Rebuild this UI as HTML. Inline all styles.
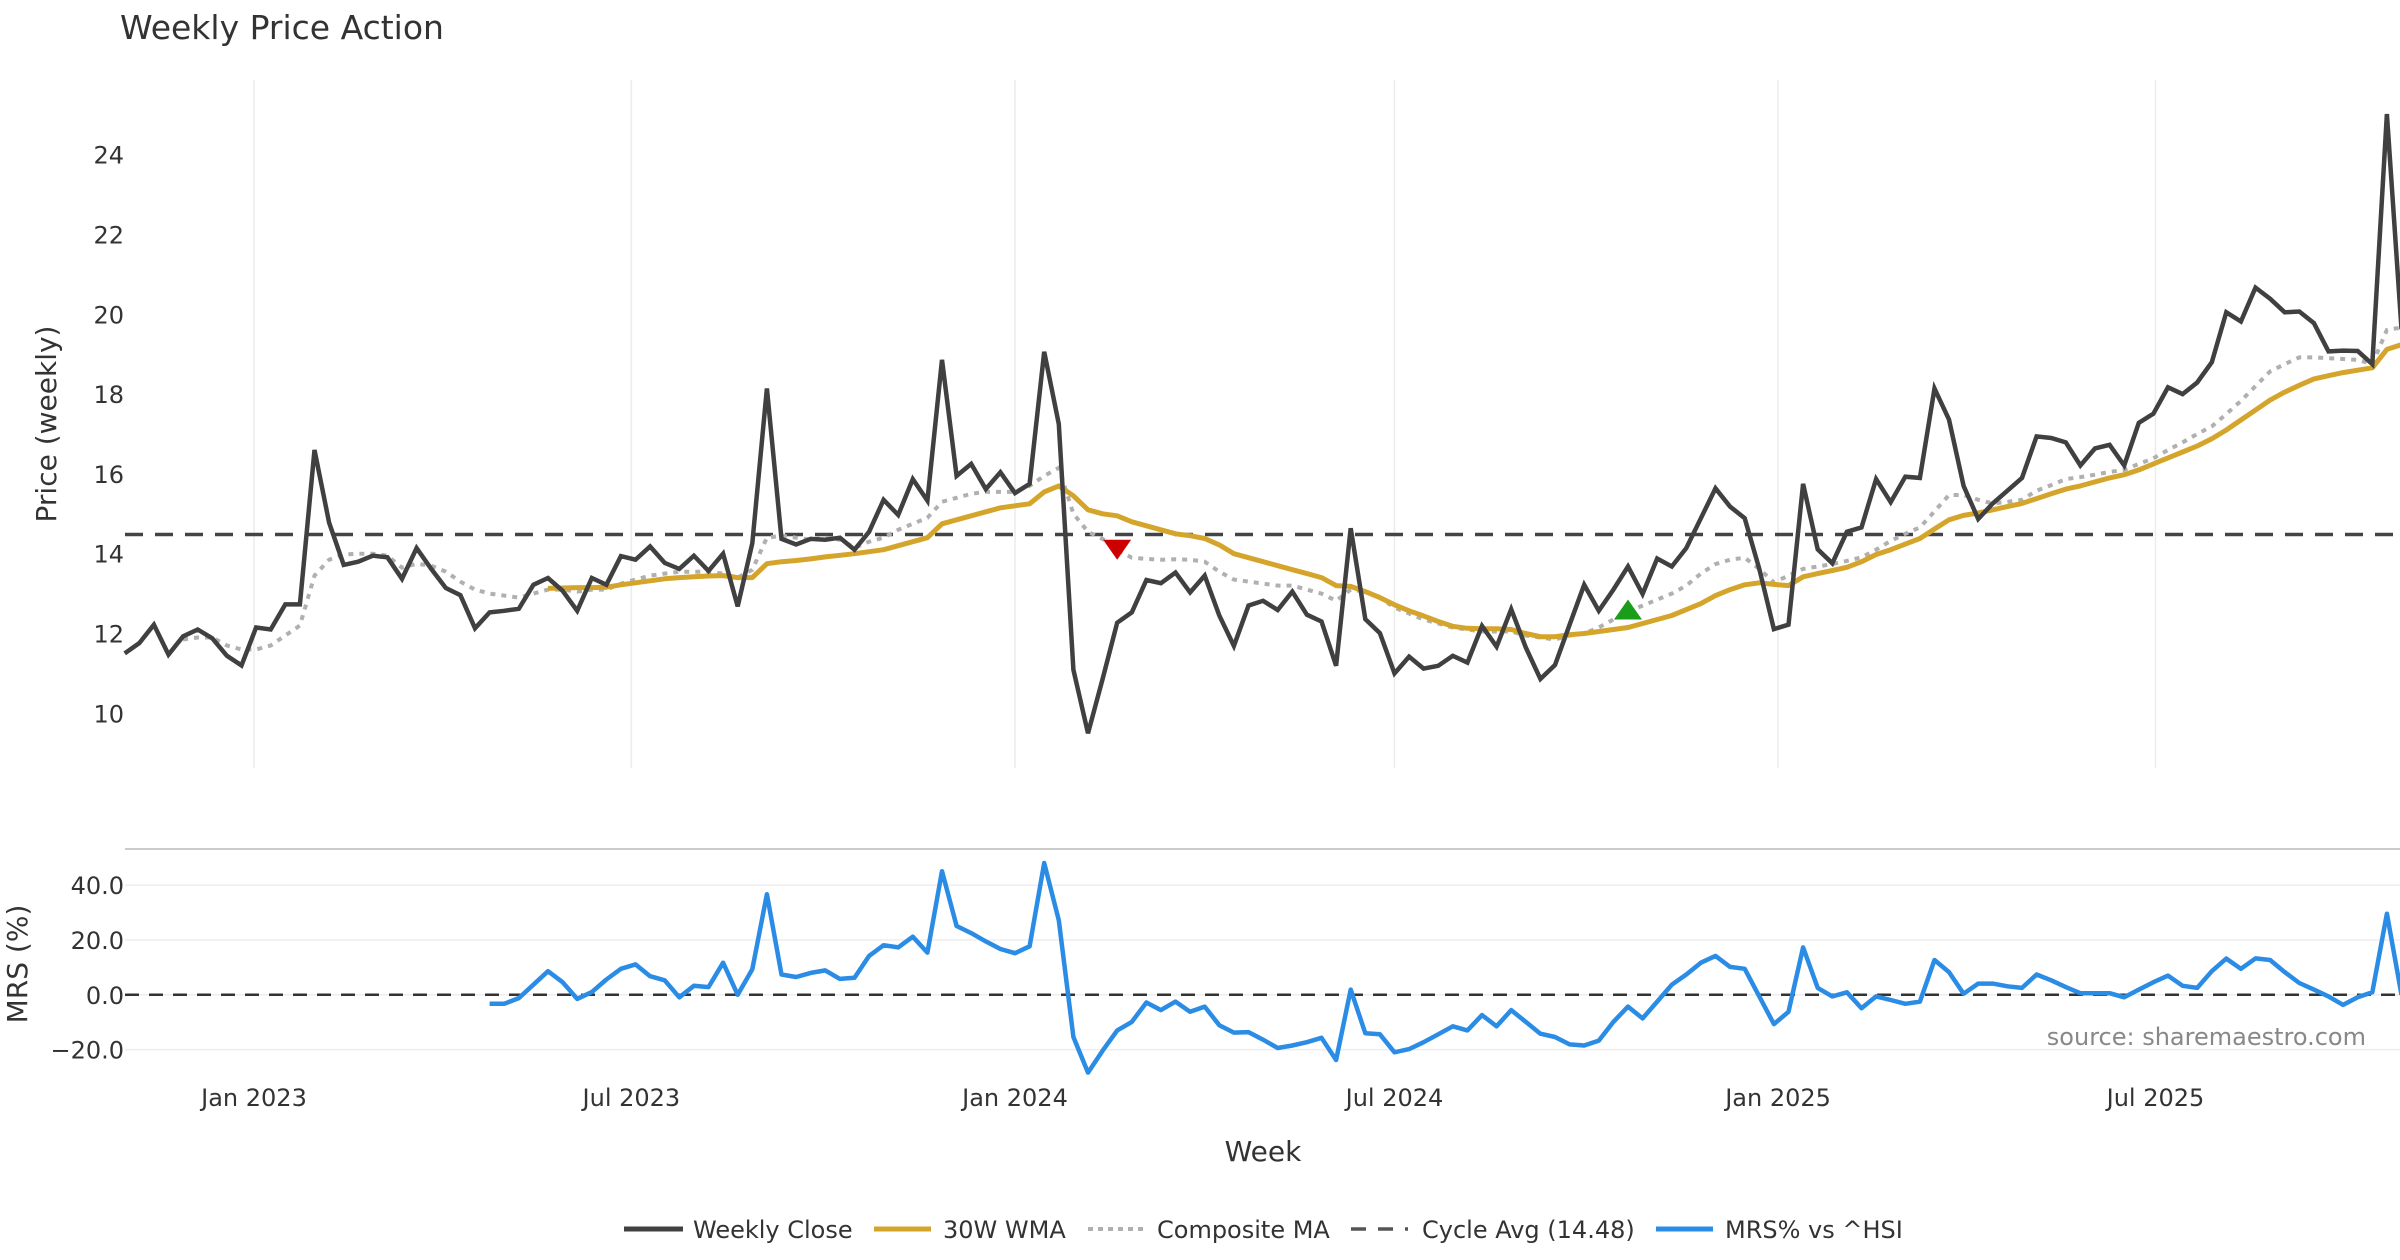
<!DOCTYPE html>
<html><head><meta charset="utf-8"><style>
html,body{margin:0;padding:0;background:#fff;}
svg{display:block;font-family:"DejaVu Sans","Liberation Sans",sans-serif;}
</style></head><body>
<svg id="chart" width="2400" height="1260" viewBox="0 0 2400 1260" xmlns="http://www.w3.org/2000/svg">
<text x="120" y="39" font-size="33" fill="#333">Weekly Price Action</text>
<g id="grid"></g>
<g id="main"></g>
<g id="mrsg"></g>
<text transform="translate(56,424) rotate(-90)" text-anchor="middle" font-size="28" fill="#333">Price (weekly)</text>
<text transform="translate(27,964) rotate(-90)" text-anchor="middle" font-size="28" fill="#333">MRS (%)</text>
<text x="1263" y="1161" text-anchor="middle" font-size="28" fill="#333">Week</text>
<text x="2366" y="1045" text-anchor="end" font-size="24" fill="#888">source: sharemaestro.com</text>
<g font-size="24" fill="#333">
 <g><line x1="624" y1="1229" x2="683" y2="1229" stroke="#404040" stroke-width="5"/><text x="693" y="1238">Weekly Close</text></g>
 <g><line x1="874" y1="1229" x2="931" y2="1229" stroke="#d4a52a" stroke-width="5"/><text x="943" y="1238">30W WMA</text></g>
 <g><line x1="1088" y1="1229" x2="1143" y2="1229" stroke="#b0b0b0" stroke-width="4" stroke-dasharray="5,5"/><text x="1157" y="1238">Composite MA</text></g>
 <g><line x1="1351" y1="1229" x2="1408" y2="1229" stroke="#555" stroke-width="3.5" stroke-dasharray="15,12"/><text x="1422" y="1238">Cycle Avg (14.48)</text></g>
 <g><line x1="1656" y1="1229" x2="1713" y2="1229" stroke="#2b8ce6" stroke-width="5"/><text x="1725" y="1238">MRS% vs ^HSI</text></g>
</g>
</svg>
<script>
const startDate = "2022-10-31";
const closeVals = [11.5,11.76,12.22,11.47,11.93,12.1,11.88,11.44,11.2,12.15,12.1,12.73,12.73,16.6,14.78,13.72,13.8,13.95,13.91,13.37,14.14,13.62,13.14,12.96,12.13,12.53,12.57,12.62,13.22,13.39,13.07,12.57,13.39,13.22,13.94,13.85,14.18,13.77,13.62,13.95,13.57,14.0,12.68,14.26,18.14,14.37,14.23,14.37,14.35,14.4,14.1,14.55,15.35,14.97,15.87,15.33,18.86,15.95,16.25,15.62,16.04,15.52,15.75,19.06,17.25,11.09,9.5,10.86,12.27,12.53,13.34,13.26,13.53,13.03,13.45,12.45,11.69,12.7,12.82,12.59,13.05,12.47,12.3,11.19,14.64,12.36,12.01,11.0,11.42,11.12,11.19,11.44,11.27,12.19,11.67,12.61,11.65,10.86,11.21,12.22,13.22,12.57,13.1,13.68,12.99,13.88,13.68,14.14,14.89,15.64,15.18,14.89,13.62,12.11,12.22,15.75,14.11,13.76,14.55,14.66,15.87,15.29,15.93,15.9,18.14,17.36,15.7,14.87,15.26,15.58,15.9,16.94,16.9,16.79,16.21,16.64,16.73,16.21,17.28,17.51,18.17,18.0,18.29,18.8,20.05,19.82,20.67,20.39,20.05,20.07,19.78,19.07,19.09,19.08,18.75,25.02,19.63];
const wmaVals = [null,null,null,null,null,null,null,null,null,null,null,null,null,null,null,null,null,null,null,null,null,null,null,null,null,null,null,null,null,13.13,13.14,13.15,13.15,13.16,13.22,13.27,13.32,13.37,13.4,13.42,13.44,13.45,13.4,13.4,13.75,13.8,13.83,13.87,13.92,13.96,14.0,14.05,14.1,14.2,14.3,14.4,14.75,14.85,14.95,15.05,15.15,15.2,15.25,15.55,15.7,15.45,15.1,15.0,14.95,14.8,14.7,14.6,14.5,14.45,14.38,14.22,14.0,13.9,13.8,13.7,13.6,13.5,13.4,13.2,13.18,13.05,12.9,12.72,12.57,12.44,12.3,12.18,12.13,12.12,12.12,12.1,12.0,11.92,11.92,11.97,12.0,12.05,12.1,12.15,12.25,12.35,12.45,12.6,12.75,12.95,13.1,13.22,13.27,13.23,13.2,13.42,13.5,13.58,13.66,13.8,13.98,14.1,14.24,14.38,14.62,14.85,14.96,15.02,15.1,15.18,15.26,15.38,15.5,15.62,15.7,15.8,15.9,15.98,16.1,16.25,16.4,16.55,16.7,16.88,17.1,17.35,17.6,17.85,18.05,18.22,18.38,18.46,18.54,18.6,18.66,19.12,19.24];
const compVals = [null,null,null,null,11.85,11.9,11.9,11.7,11.6,11.6,11.7,11.95,12.2,13.45,13.85,13.98,14.0,14.0,13.95,13.65,13.75,13.7,13.55,13.3,13.1,13.0,12.95,12.9,13.0,13.1,13.1,13.05,13.1,13.1,13.25,13.35,13.45,13.5,13.55,13.55,13.55,13.5,13.4,13.6,14.4,14.45,14.4,14.35,14.4,14.35,14.15,14.3,14.4,14.6,14.75,14.9,15.3,15.4,15.5,15.55,15.55,15.55,15.7,15.95,16.15,15.0,14.55,14.37,14.1,13.9,13.87,13.85,13.86,13.85,13.8,13.55,13.35,13.3,13.25,13.2,13.2,13.1,13.0,12.82,13.1,13.05,12.9,12.65,12.5,12.35,12.25,12.15,12.1,12.05,12.05,12.05,11.95,11.9,11.85,11.95,12.0,12.15,12.35,12.55,12.7,12.85,13.0,13.2,13.5,13.74,13.85,13.9,13.62,13.28,13.45,13.62,13.68,13.74,13.82,13.91,14.1,14.32,14.5,14.66,15.06,15.47,15.47,15.35,15.26,15.3,15.35,15.58,15.72,15.87,15.92,15.98,16.05,16.1,16.25,16.39,16.6,16.79,17.0,17.19,17.5,17.83,18.2,18.57,18.75,18.92,18.92,18.9,18.88,18.86,18.75,19.61,19.67];
const mrsVals = [null,null,null,null,null,null,null,null,null,null,null,null,null,null,null,null,null,null,null,null,null,null,null,null,null,-3.3,-3.3,-1.2,3.7,8.6,4.6,-1.5,1.0,5.6,9.5,11.1,6.8,5.3,-0.9,3.3,2.8,11.7,0,9.3,36.7,7.4,6.5,8.0,8.9,5.8,6.2,14.2,18.1,17.3,21.2,15.4,45.1,25.1,22.5,19.5,16.7,15.2,17.7,48.1,27.2,-15.4,-28.4,-20.4,-13,-9.9,-2.8,-5.6,-2.5,-6.2,-4.3,-11.1,-13.8,-13.6,-16.4,-19.4,-18.5,-17.3,-15.7,-23.8,1.9,-14,-14.4,-21,-19.8,-17.3,-14.4,-11.5,-13,-7.4,-11.5,-5.6,-9.9,-14.2,-15.4,-18.1,-18.5,-16.7,-9.9,-4.3,-8.6,-2.5,3.7,7.4,11.7,14.2,10.2,9.5,-0.6,-10.7,-6.2,17.3,2.5,-0.6,0.9,-4.9,-0.6,-1.9,-3.3,-2.5,12.7,8.3,0.4,4.1,4.1,3.1,2.5,7.4,5.3,2.8,0.6,0.6,0.6,-0.9,1.9,4.6,7.0,3.3,2.5,8.6,13.2,9.5,13.3,12.7,8.3,4.3,1.9,-0.6,-3.7,-0.9,0.9,29.6,0];
const cycleAvg = 14.48;
const sellSignalIdx = [68];
const sellSignalVal = [14.1];
const buySignalIdx = [103];
const buySignalVal = [12.6];
const priceTicks = [10,12,14,16,18,20,22,24];
const mrsTicks = [40,20,0,-20];
const mrsTickLabels = ["40.0","20.0","0.0","\u221220.0"];
const xTickDates = ["2023-01-01","2023-07-01","2024-01-01","2024-07-01","2025-01-01","2025-07-01"];
const xTickLabels = ["Jan 2023","Jul 2023","Jan 2024","Jul 2024","Jan 2025","Jul 2025"];

const NS="http://www.w3.org/2000/svg";
const DAY=86400000;
const t0=Date.parse("2023-01-01"), t1=Date.parse("2024-01-01");
const pxPerDay=(1015-254)/((t1-t0)/DAY);
function xDate(ms){return 254+(ms-t0)/DAY*pxPerDay;}
function xIdx(i){return xDate(Date.parse(startDate)+i*7*DAY);}
function yP(v){return 713.3-(v-10)*39.9;}
function yM(v){return 994.8-v*2.74;}
function mk(tag,attrs,parent){const e=document.createElementNS(NS,tag);for(const k in attrs)e.setAttribute(k,attrs[k]);parent.appendChild(e);return e;}
const grid=document.getElementById('grid'),main=document.getElementById('main'),mg=document.getElementById('mrsg');

xTickDates.forEach((d,k)=>{const x=xDate(Date.parse(d));
 const gl=mk('line',{x1:x,x2:x,y1:80,y2:768,stroke:'#ececec','stroke-width':1.5},grid);
 
 
 const t=mk('text',{x:x,y:1106,'text-anchor':'middle','font-size':24,fill:'#333'},grid);
 t.textContent=xTickLabels[k];
 
 
});
priceTicks.forEach(v=>{const t=mk('text',{x:124,y:yP(v)+9,'text-anchor':'end','font-size':24,fill:'#333'},grid);
 t.textContent=v;
 
 
});
const sep=mk('line',{x1:125,x2:2400,y1:849,y2:849,stroke:'#cccccc','stroke-width':2},grid);


mrsTicks.forEach((v,k)=>{
 const gl=mk('line',{x1:125,x2:2400,y1:yM(v),y2:yM(v),stroke:'#eeeeee','stroke-width':1.5},grid);
 
 
 const t=mk('text',{x:124,y:yM(v)+9,'text-anchor':'end','font-size':24,fill:'#333'},grid);
 t.textContent=mrsTickLabels[k];
 
 
});

function pathFrom(arr,yf){let d='',pen=false;arr.forEach((v,i)=>{if(v===null){pen=false;return;}d+=(pen?'L':'M')+xIdx(i).toFixed(1)+','+yf(v).toFixed(1);pen=true;});return d;}

const cyc=mk('line',{x1:125,x2:2400,y1:yP(cycleAvg),y2:yP(cycleAvg),stroke:'#444','stroke-width':3.5,'stroke-dasharray':'18,12'},main);


const comp=mk('path',{d:pathFrom(compVals,yP),fill:'none',stroke:'#b0b0b0','stroke-width':4,'stroke-dasharray':'5,6'},main);


const wma=mk('path',{d:pathFrom(wmaVals,yP),fill:'none',stroke:'#d4a52a','stroke-width':5,'stroke-linejoin':'round'},main);


const cl=mk('path',{d:pathFrom(closeVals,yP),fill:'none',stroke:'#404040','stroke-width':4.5,'stroke-linejoin':'miter'},main);


sellSignalIdx.forEach((ix,k)=>{const x=xIdx(ix),y=yP(sellSignalVal[k]);
 const p=mk('polygon',{points:`${x-14},${y-10} ${x+14},${y-10} ${x},${y+10}`,fill:'#cc0000'},main);
 
 
});
buySignalIdx.forEach((ix,k)=>{const x=xIdx(ix),y=yP(buySignalVal[k]);
 const p=mk('polygon',{points:`${x-14},${y+10} ${x+14},${y+10} ${x},${y-10}`,fill:'#1a9e1a'},main);
 
 
});
const z=mk('line',{x1:125,x2:2400,y1:yM(0),y2:yM(0),stroke:'#333','stroke-width':2.5,'stroke-dasharray':'14,10'},mg);


const mp=mk('path',{d:pathFrom(mrsVals,yM),fill:'none',stroke:'#2b8ce6','stroke-width':4.5,'stroke-linejoin':'round'},mg);


</script>
</body></html>
